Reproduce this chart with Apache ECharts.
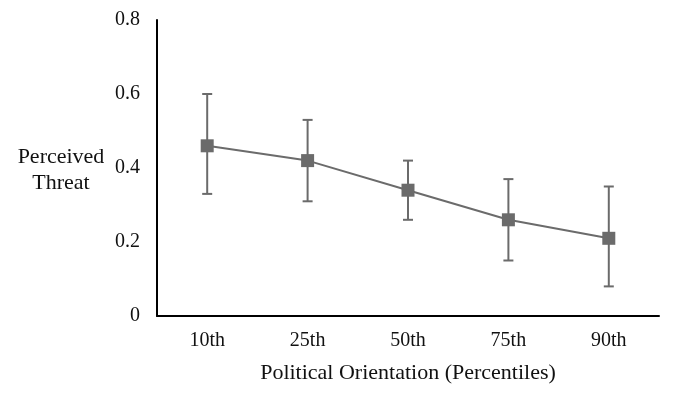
<!DOCTYPE html>
<html><head><meta charset="utf-8">
<script src="https://cdn.jsdelivr.net/npm/echarts@6/dist/echarts.min.js"></script>
<style>html,body{margin:0;padding:0;background:#fff}#c{width:675px;height:395px}</style>
</head><body><div id="c"></div>
<script>
const categories = ['10th', '25th', '50th', '75th', '90th'];
const means = [0.46, 0.42, 0.34, 0.26, 0.21];
const lower = [0.33, 0.31, 0.26, 0.15, 0.08];
const upper = [0.60, 0.53, 0.42, 0.37, 0.35];
const yTicks = [0, 0.2, 0.4, 0.6, 0.8];

const font = 'Liberation Serif, Times New Roman, serif';
const col = '#6b6b6b';
const chart = echarts.init(document.getElementById('c'), null, {renderer: 'canvas'});
chart.setOption({
  animation: false,
  grid: {left: 157, right: 16, top: 20, bottom: 79},
  xAxis: {
    type: 'category', data: categories,
    axisLine: {lineStyle: {color: '#000', width: 2}},
    axisTick: {show: false},
    axisLabel: {fontFamily: font, fontSize: 20, color: '#111', margin: 15},
    name: 'Political Orientation (Percentiles)', nameLocation: 'middle', nameGap: 46,
    nameTextStyle: {fontFamily: font, fontSize: 22, color: '#111'}
  },
  yAxis: {
    type: 'value', min: yTicks[0], max: yTicks[yTicks.length - 1], interval: 0.2,
    axisLine: {show: true, lineStyle: {color: '#000', width: 2}},
    axisTick: {show: false}, splitLine: {show: false},
    axisLabel: {fontFamily: font, fontSize: 20, color: '#111', margin: 17,
      formatter: v => v === 0 ? '0' : v.toFixed(1)}
  },
  graphic: [{
    type: 'text', x: 61, y: 144,
    style: {text: 'Perceived\nThreat', font: '22px ' + font, fill: '#111', lineHeight: 26, align: 'center'}
  }],
  series: [
    {
      type: 'custom', z: 1,
      data: categories.map((c, i) => [i, lower[i], upper[i]]),
      renderItem: function (params, api) {
        const x = api.value(0);
        const lo = api.coord([x, api.value(1)]);
        const hi = api.coord([x, api.value(2)]);
        const hw = 5;
        const st = {stroke: col, lineWidth: 2};
        return {type: 'group', children: [
          {type: 'line', shape: {x1: lo[0], y1: lo[1], x2: hi[0], y2: hi[1]}, style: st},
          {type: 'line', shape: {x1: lo[0] - hw, y1: lo[1], x2: lo[0] + hw, y2: lo[1]}, style: st},
          {type: 'line', shape: {x1: hi[0] - hw, y1: hi[1], x2: hi[0] + hw, y2: hi[1]}, style: st}
        ]};
      }
    },
    {
      type: 'line', z: 2, data: means,
      symbol: 'rect', symbolSize: 13,
      lineStyle: {color: col, width: 2},
      itemStyle: {color: col}
    }
  ]
});
</script></body></html>
